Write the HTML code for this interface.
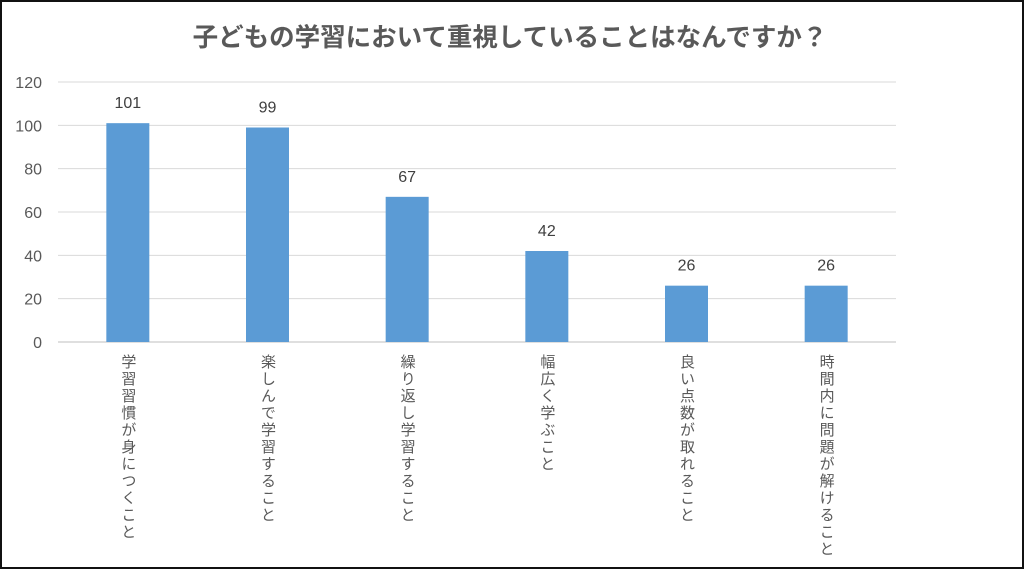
<!DOCTYPE html>
<html><head><meta charset="utf-8"><style>
body{margin:0;width:1024px;height:569px;overflow:hidden;background:#fff;font-family:"Liberation Sans","Noto Sans CJK JP",sans-serif}
#frame{position:absolute;left:0;top:0;width:1020px;height:565px;border:2px solid #111}
svg{position:absolute;left:0;top:0}
.lbl{position:absolute;writing-mode:vertical-rl;font-size:15px;color:#595959;letter-spacing:2px;top:354px;transform:translateX(-50%)}
</style></head><body>
<div id="frame"></div>
<svg id="chart" width="1024" height="569">
<text x="510" y="46" text-anchor="middle" font-size="25.5" font-weight="bold" fill="#595959">子どもの学習において重視していることはなんですか？</text>
</svg>
<div id="labels"></div>
<script>
const categories=["学習習慣が身につくこと","楽しんで学習すること","繰り返し学習すること","幅広く学ぶこと","良い点数が取れること","時間内に問題が解けること"];
const values=[101,99,67,42,26,26];
const yTicks=[0,20,40,60,80,100,120];
const ns="http://www.w3.org/2000/svg",svg=document.getElementById('chart');
const x0=58,x1=896,yBase=342,yTop=82,yMax=120;
const y=v=>yBase-(v/yMax)*(yBase-yTop);
const step=(x1-x0)/categories.length;
const xc=i=>x0+step*(i+0.5);
function mk(t,a){const e=document.createElementNS(ns,t);for(const k in a)e.setAttribute(k,a[k]);svg.appendChild(e);return e;}
yTicks.forEach(t=>{
 const g=mk('line',{x1:x0,x2:x1,y1:y(t),y2:y(t),stroke:t===0?'#bfbfbf':'#d9d9d9','stroke-width':1});
 
 
 const l=mk('text',{x:42,y:y(t)+6,'text-anchor':'end','font-size':16,fill:'#595959'});
 l.textContent=t;
 
 
});
const bw=43;
values.forEach((v,i)=>{
 const r=mk('rect',{x:xc(i)-bw/2,y:y(v),width:bw,height:yBase-y(v),fill:'#5b9bd5'});
 
 
 const t=mk('text',{x:xc(i),y:y(v)-15,'text-anchor':'middle','font-size':16,fill:'#404040'});
 t.textContent=v;
 
 
 const d=document.createElement('div');
 d.className='lbl';d.style.left=xc(i)+'px';d.textContent=categories[i];
 
 
 document.getElementById('labels').appendChild(d);
});
</script>
</body></html>
